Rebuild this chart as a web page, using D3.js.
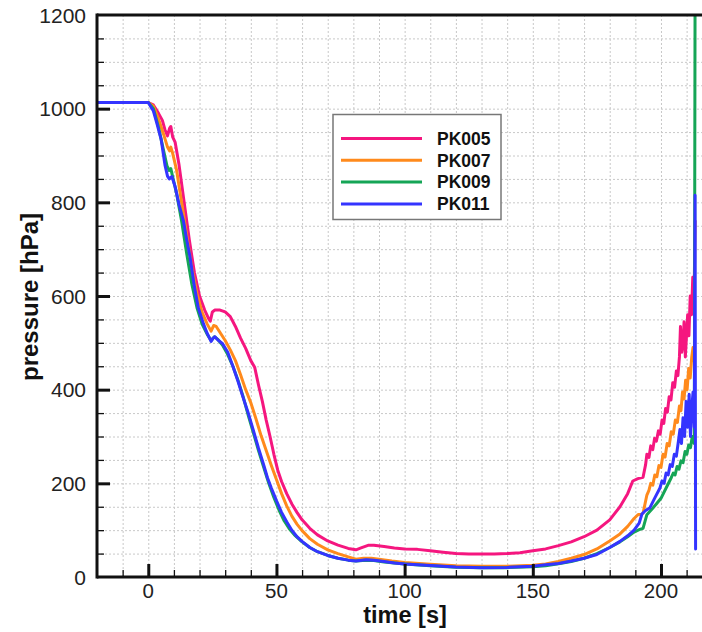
<!DOCTYPE html>
<html>
<head>
<meta charset="utf-8">
<script src="https://cdn.jsdelivr.net/npm/d3@7"></script>
<style>
  html, body { margin: 0; padding: 0; background: #fff; }
  svg { display: block; }
</style>
</head>
<body>
<svg id="chart" width="702" height="632"></svg>
<script>
// ---------------- data ----------------
const seriesNames = ["PK005", "PK007", "PK009", "PK011"];
const seriesColors = ["#f5167f", "#ff8a1c", "#15a556", "#3434ff"];

const xMajorTicks = [0, 50, 100, 150, 200];
const yMajorTicks = [0, 200, 400, 600, 800, 1000, 1200];
const xLabel = "time [s]";
const yLabel = "pressure [hPa]";

// [time s, pressure hPa]
const PK005 = [[-20,1013],[0,1013],[2,1008],[4,990],[5.5,975],[6.5,955],[7.5,942],[8.3,958],[8.8,962],[9.5,940],[10.5,928],[12,880],[14,800],[16,720],[18,650],[20,600],[22,570],[23.5,552],[24.2,546],[25,566],[26,570],[28,570],[30,566],[32,556],[34,535],[36,510],[38,488],[40,462],[41.5,448],[43,410],[44.5,375],[46,335],[47.5,300],[49,262],[50.5,228],[52,204],[54,178],[56,156],[58,138],[60,122],[63,104],[66,90],[70,77],[74,68],[78,61],[81,58],[83,62],[86,68],[88,68],[92,65],[96,62],[100,60],[105,59],[110,56],[115,53],[120,50],[125,49],[130,49],[135,49],[140,50],[145,52],[150,56],[155,60],[160,67],[165,75],[170,86],[175,100],[180,122],[184,150],[187,178],[189,205],[191,210],[193,213],[194,240],[194.5,262],[195.3,255],[196,280],[196.8,272],[197.5,296],[198.2,290],[199,312],[199.7,305],[200.4,335],[201.1,328],[201.8,360],[202.5,352],[203.2,385],[203.9,378],[204.6,415],[205.3,405],[206,440],[206.6,430],[207.2,470],[207.6,535],[208.1,480],[208.6,500],[209,545],[209.5,470],[210,520],[210.4,560],[210.9,515],[211.4,600],[211.9,560],[212.4,640],[212.9,590],[213.3,760]];

const PK007 = [[-20,1013],[0,1013],[2,1005],[4,978],[6,945],[7.5,918],[8.3,910],[8.8,918],[9.5,905],[11,870],[13,800],[15,730],[17,660],[19,605],[21,565],[23,540],[24.5,525],[25.5,537],[26.5,535],[28,522],[30,505],[32,485],[34,462],[36,432],[38,400],[40,372],[42,338],[44,302],[46,270],[48,238],[50,208],[52,178],[54,152],[56,130],[58,113],[60,99],[63,82],[66,70],[70,58],[74,50],[78,43],[81,38],[84,40],[87,40],[90,38],[95,34],[100,31],[110,27],[120,24],[130,23],[140,23],[150,25],[155,28],[160,33],[165,40],[170,48],[175,60],[180,77],[184,92],[187,108],[189.5,125],[191,133],[193,136],[194.5,175],[195.3,185],[196,200],[196.8,196],[197.6,218],[198.4,214],[199.2,238],[200,234],[200.8,262],[201.6,256],[202.4,285],[203.2,280],[204,310],[204.8,305],[205.6,335],[206.4,330],[207.2,365],[207.8,355],[208.4,395],[209,380],[209.6,420],[210.2,400],[210.8,445],[211.4,425],[212,470],[212.5,490],[213,460]];

const PK009 = [[-20,1013],[0,1013],[2,1000],[4,960],[6,910],[7.3,878],[8.2,868],[8.8,872],[9.5,855],[11,820],[13,760],[15,690],[17,625],[19,575],[21,540],[23,518],[24.5,505],[25.8,513],[27,508],[29,495],[31,475],[33,450],[35,420],[37,385],[39,345],[41,308],[43,270],[45,235],[47,200],[49,170],[51,143],[53,120],[55,103],[57,90],[60,75],[63,63],[66,54],[70,46],[74,40],[78,36],[81,34],[85,36],[88,35],[92,32],[96,30],[100,28],[110,24],[120,21],[130,20],[140,20],[150,22],[155,24],[160,28],[165,33],[170,40],[175,50],[180,63],[184,75],[187,86],[189.5,96],[191.5,101],[193,104],[194.5,133],[196.5,145],[198.5,158],[200,168],[202,190],[204,212],[204.8,222],[205.5,218],[206.3,236],[207,230],[207.8,248],[208.6,244],[209.4,268],[210.1,262],[210.8,282],[211.5,276],[212.2,300],[213,285],[213.3,1250]];

const PK011 = [[-20,1013],[0,1013],[2,995],[3.3,970],[5,935],[6.5,880],[7.5,856],[8.2,850],[9.2,855],[10.5,833],[12,795],[13.7,761],[15,720],[16.3,683],[18,620],[19.5,575],[21.5,541],[23,520],[24.5,503],[25.3,510],[26,513],[27,507],[29,498],[31,480],[33,450],[35,418],[37,383],[39,350],[41,313],[43,275],[45,240],[46.5,212],[48,190],[50,163],[52,138],[54,118],[56,100],[58,86],[60,76],[63,63],[66,54],[70,46],[74,40],[78,36],[81,34],[85,37],[88,36],[92,33],[96,30],[100,28],[110,24.5],[120,21.5],[130,20],[140,20.5],[150,23],[155,26],[160,29],[165,34],[170,40],[175,48],[180,63],[184,76],[187,88],[189.5,100],[191.5,115],[192.6,135],[194,142],[195.7,148],[197.5,168],[199.6,190],[200.4,205],[201.2,200],[202,222],[202.8,218],[203.6,240],[204.4,236],[205.2,262],[206,258],[206.8,290],[207.4,315],[208,285],[208.6,340],[209.2,300],[209.8,375],[210.4,320],[211,390],[211.5,300],[212,360],[212.5,395],[213,320],[213.3,815],[213.5,60]];

const seriesData = [PK005, PK007, PK009, PK011];

// ---------------- layout ----------------
const svg = d3.select("#chart");
const plot = { left: 97, right: 702, top: 15, bottom: 577 };
const x = d3.scaleLinear().domain([-20, 216]).range([plot.left, plot.right]);
const y = d3.scaleLinear().domain([0, 1200]).range([plot.bottom, plot.top]);

const xMinor = d3.range(-20, 217, 10);
const yMinor = d3.range(0, 1201, 50);

// grid
const grid = svg.append("g").attr("stroke", "#c8c8c8").attr("stroke-width", 1).attr("stroke-dasharray", "2,2");
grid.selectAll("line.vx").data(xMinor.filter(v => v > -20)).enter().append("line")
  .attr("x1", d => x(d) + 0.5).attr("x2", d => x(d) + 0.5).attr("y1", plot.top).attr("y2", plot.bottom);
grid.selectAll("line.hy").data(yMinor.filter(v => v > 0 && v < 1200)).enter().append("line")
  .attr("x1", plot.left).attr("x2", plot.right).attr("y1", d => y(d) + 0.5).attr("y2", d => y(d) + 0.5);

// clip
svg.append("clipPath").attr("id", "clip").append("rect")
  .attr("x", plot.left).attr("y", plot.top).attr("width", plot.right - plot.left).attr("height", plot.bottom - plot.top);

const line = d3.line().x(d => x(d[0])).y(d => y(d[1]));
const lines = svg.append("g").attr("clip-path", "url(#clip)");
seriesData.forEach((s, i) => {
  lines.append("path").datum(s)
    .attr("d", line)
    .attr("fill", "none")
    .attr("stroke", seriesColors[i])
    .attr("stroke-width", 3)
    .attr("stroke-linejoin", "round")
    .attr("stroke-linecap", "round");
});

// axes (ticks inward)
const xAxisMinor = d3.axisTop(x).tickValues(xMinor.filter(v => xMajorTicks.indexOf(v) < 0 && v > -20)).tickSize(7).tickFormat("");
const xAxisMajor = d3.axisTop(x).tickValues(xMajorTicks).tickSize(13).tickFormat("");
const yAxisMinor = d3.axisRight(y).tickValues(yMinor.filter(v => yMajorTicks.indexOf(v) < 0)).tickSize(7).tickFormat("");
const yAxisMajor = d3.axisRight(y).tickValues(yMajorTicks.filter(v => v > 0 && v < 1200)).tickSize(13).tickFormat("");

function styleAxis(g, w) {
  g.select(".domain").remove();
  g.selectAll(".tick line").attr("stroke", "#111").attr("stroke-width", w);
}
svg.append("g").attr("transform", `translate(0,${plot.bottom})`).call(xAxisMinor).call(g => styleAxis(g, 1.3));
svg.append("g").attr("transform", `translate(0,${plot.bottom})`).call(xAxisMajor).call(g => styleAxis(g, 3));
svg.append("g").attr("transform", `translate(${plot.left},0)`).call(yAxisMinor).call(g => styleAxis(g, 1.3));
svg.append("g").attr("transform", `translate(${plot.left},0)`).call(yAxisMajor).call(g => styleAxis(g, 3));

// frame lines
const frame = svg.append("g").attr("stroke", "#111").attr("stroke-width", 3).attr("fill", "none");
frame.append("line").attr("x1", plot.left).attr("x2", plot.right).attr("y1", plot.bottom).attr("y2", plot.bottom);
frame.append("line").attr("x1", plot.left).attr("x2", plot.left).attr("y1", plot.top - 1.5).attr("y2", plot.bottom + 1.5);
frame.append("line").attr("x1", plot.left).attr("x2", plot.right).attr("y1", plot.top).attr("y2", plot.top);

// tick labels
const font = "'Liberation Sans', Arial, Helvetica, sans-serif";
svg.append("g").selectAll("text").data(xMajorTicks).enter().append("text")
  .attr("x", d => x(d)).attr("y", 598)
  .attr("text-anchor", "middle").attr("font-family", font).attr("font-size", 20.5).attr("fill", "#222")
  .text(d => d);
svg.append("g").selectAll("text").data(yMajorTicks).enter().append("text")
  .attr("x", 86).attr("y", d => y(d) + 7.5)
  .attr("text-anchor", "end").attr("font-family", font).attr("font-size", 21).attr("fill", "#222")
  .text(d => d);

// axis titles
svg.append("text").attr("x", 405).attr("y", 623).attr("text-anchor", "middle")
  .attr("font-family", font).attr("font-weight", "bold").attr("font-size", 23.5).attr("fill", "#111").text(xLabel);
svg.append("text").attr("transform", `translate(38,297) rotate(-90)`).attr("text-anchor", "middle")
  .attr("font-family", font).attr("font-weight", "bold").attr("font-size", 24).attr("fill", "#111").text(yLabel);

// legend
const lg = svg.append("g");
lg.append("rect").attr("x", 333).attr("y", 114.5).attr("width", 168).attr("height", 105)
  .attr("fill", "#fff").attr("stroke", "#777").attr("stroke-width", 1.5);
seriesNames.forEach((n, i) => {
  const yy = 138.5 + i * 21.8;
  lg.append("line").attr("x1", 341).attr("x2", 422).attr("y1", yy).attr("y2", yy)
    .attr("stroke", seriesColors[i]).attr("stroke-width", 3);
  lg.append("text").attr("x", 437).attr("y", yy + 6.2)
    .attr("font-family", font).attr("font-weight", "bold").attr("font-size", 17.5).attr("fill", "#111").text(n);
});
</script>
</body>
</html>
